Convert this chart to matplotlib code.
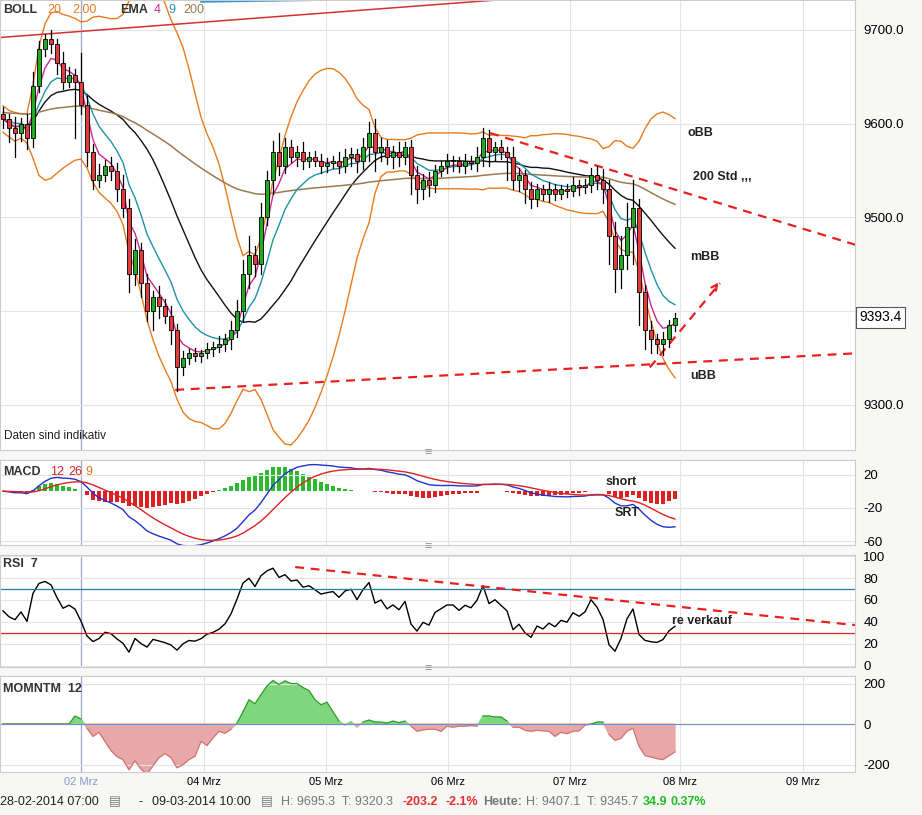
import numpy as np
import pandas as pd
import matplotlib
matplotlib.use('Agg')
import matplotlib.pyplot as plt
from matplotlib.patches import Rectangle

plt.rcParams['font.family'] = ['Liberation Sans', 'DejaVu Sans']
plt.rcParams['axes.unicode_minus'] = False

# hourly closes
closes = [9605, 9595, 9590, 9600, 9585, 9640, 9680, 9690, 9685, 9665,
          9645, 9652, 9645, 9620, 9570, 9540, 9545, 9555, 9550, 9530,
          9510, 9440, 9465, 9430, 9400, 9415, 9405, 9395, 9380, 9340,
          9350, 9355, 9352, 9355, 9360, 9362, 9365, 9370, 9380, 9400,
          9440, 9460, 9450, 9500, 9540, 9570, 9555, 9575, 9565, 9570,
          9560, 9565, 9560, 9555, 9558, 9560, 9555, 9565, 9568, 9560,
          9575, 9590, 9570, 9575, 9565, 9570, 9565, 9575, 9545, 9530,
          9540, 9535, 9550, 9555, 9560, 9560, 9555, 9560, 9558, 9565,
          9585, 9570, 9575, 9570, 9565, 9540, 9545, 9530, 9520, 9530,
          9525, 9530, 9525, 9530, 9528, 9535, 9532, 9535, 9545, 9540,
          9530, 9480, 9445, 9460, 9490, 9510, 9420, 9380, 9370, 9365,
          9370, 9385, 9393]
wick_hi = [8, 5, 12, 6, 10, 15, 8, 6, 10, 5, 12, 8, 6, 30, 10, 8, 12, 6, 10, 8,
           15, 10, 12, 8, 10, 6, 12, 8, 10, 6, 8, 5, 6, 4, 6, 5, 8, 6, 10, 12,
           15, 20, 10, 15, 10, 12, 20, 10, 8, 6, 10, 5, 6, 8, 5, 6, 10, 8, 6, 5,
           10, 12, 15, 10, 8, 6, 10, 5, 8, 10, 6, 8, 6, 5, 8, 6, 5, 8, 6, 10,
           10, 8, 6, 8, 5, 10, 8, 6, 8, 6, 5, 8, 6, 5, 6, 8, 5, 6, 8, 10,
           12, 10, 15, 20, 25, 30, 10, 8, 10, 6, 8, 6, 5]
wick_lo = [10, 15, 25, 8, 12, 10, 6, 8, 10, 12, 8, 6, 60, 10, 15, 10, 8, 6, 10, 12,
           10, 20, 12, 15, 10, 20, 12, 8, 15, 25, 8, 6, 5, 6, 5, 8, 6, 8, 10, 8,
           10, 15, 12, 10, 8, 15, 10, 8, 6, 10, 8, 6, 5, 8, 6, 5, 8, 6, 10, 12,
           8, 15, 20, 10, 8, 12, 10, 8, 20, 15, 10, 12, 8, 6, 8, 10, 6, 8, 6, 8,
           10, 15, 10, 8, 25, 10, 12, 15, 10, 8, 6, 8, 6, 5, 6, 5, 8, 6, 8, 10,
           15, 30, 25, 20, 15, 40, 35, 20, 15, 10, 12, 8, 6]
date_labels = ['02 Mrz', '04 Mrz', '05 Mrz', '06 Mrz', '07 Mrz', '08 Mrz', '09 Mrz']
date_pos = [13, 33.5, 53.8, 74.2, 94.5, 112.8, 133.3]

c = pd.Series(closes, dtype=float)
n = len(c)
idx = np.arange(n)
opens = c.shift(1).fillna(c[0] + 5)

ema4 = c.ewm(span=4, adjust=False).mean()
ema9 = c.ewm(span=9, adjust=False).mean()
ema200 = pd.Series(9612.0, index=c.index)
for i in range(n):
    prev = 9612.0 if i == 0 else ema200[i - 1]
    ema200[i] = prev + 2 / 201 * (c[i] - prev) * 2.2
mid = c.rolling(20, min_periods=1).mean()
sd = c.rolling(20, min_periods=2).std().bfill()
upper = mid + 2 * sd
lower = mid - 2 * sd

macd = c.ewm(span=12, adjust=False).mean() - c.ewm(span=26, adjust=False).mean()
signal = macd.ewm(span=9, adjust=False).mean()
hist = macd - signal

delta = c.diff().fillna(0)
rsi = []
g, l = 8.0, 8.0
for d in delta:
    g = g + (max(d, 0) - g) / 7
    l = l + (max(-d, 0) - l) / 7
    rsi.append(100 - 100 / (1 + g / l))
rsi = np.array(rsi)
mom = (c - c.shift(12)).fillna(0)

fig = plt.figure(figsize=(9.22, 8.15), dpi=100)
W = 855 / 922
ax = fig.add_axes([0, 0.448, W, 0.552])
ax1 = fig.add_axes([0, 0.331, W, 0.104], sharex=ax)
ax2 = fig.add_axes([0, 0.182, W, 0.137], sharex=ax)
ax3 = fig.add_axes([0, 0.053, W, 0.117], sharex=ax)

grid = '#e4e4e4'
for a in (ax, ax1, ax2, ax3):
    a.set_facecolor('white')
    for s in a.spines.values():
        s.set_color('#cccccc')
    a.yaxis.tick_right()
    a.tick_params(axis='y', length=0, labelsize=9.5, pad=6)
    a.tick_params(axis='x', length=0, labelbottom=(a is ax3))
    for p in date_pos:
        a.axvline(p, color=grid, lw=0.8, zorder=0)
    a.axvline(date_pos[0], color='#9aaad0', lw=0.9, zorder=0.5)
ax.set_xlim(-0.5, 142)

# main price panel
for i in idx:
    o, cl = opens[i], c[i]
    col = '#22aa22' if cl >= o else '#e03c3c'
    ax.plot([i, i], [min(o, cl) - wick_lo[i], max(o, cl) + wick_hi[i]], color='black', lw=0.9, zorder=3)
    ax.add_patch(Rectangle((i - 0.32, min(o, cl)), 0.64, max(abs(cl - o), 1.5),
                           facecolor=col, edgecolor='black', lw=0.6, zorder=4))
ax.plot(idx, upper, color='#e87b1e', lw=1)
ax.plot(idx, lower, color='#e87b1e', lw=1)
ax.plot(idx, mid, color='#111111', lw=1)
ax.plot(idx, ema200, color='#9b7b4e', lw=1.1)
ax.plot(idx, ema9, color='#1f93a6', lw=1)
ax.plot(idx, ema4, color='#cc2a8a', lw=1)
ax.plot([-0.5, 82.3], [9692, 9732], color='#d83030', lw=1.1)
ax.plot([33, 53.6], [9730, 9732], color='#2a93d5', lw=1.2)

ax.set_ylim(9252, 9732)
ax.set_yticks([9300, 9400, 9500, 9600, 9700])
ax.set_yticklabels(['9300.0', '', '9500.0', '9600.0', '9700.0'])
ax.yaxis.grid(True, color=grid, lw=0.8)
ax.set_axisbelow(True)

dash = dict(color='#e82020', lw=1.6, ls=(0, (4, 3)))
ax.plot([81.2, 142.5], [9590, 9470], **dash)
ax.annotate('', xy=(142.5, 9470), xytext=(140, 9475),
            arrowprops=dict(arrowstyle='->', color='#e82020', lw=1.6))
ax.plot([28.7, 142], [9316, 9355], **dash)
ax.annotate('', xy=(142.3, 9355), xytext=(140, 9354),
            arrowprops=dict(arrowstyle='->', color='#e82020', lw=1.6))
ax.plot([107.8, 119.5], [9340, 9430], **dash)
ax.annotate('', xy=(119.5, 9433), xytext=(118.5, 9424),
            arrowprops=dict(arrowstyle='->', color='#e82020', lw=1.6))

lab = dict(fontsize=9, fontweight='bold', color='#222222')
ax.text(114, 9587, 'oBB', **lab)
ax.text(115, 9540, '200 Std ,,,', **lab)
ax.text(114.5, 9455, 'mBB', **lab)
ax.text(114.5, 9328, 'uBB', **lab)
ax.text(0.1, 9264, 'Daten sind indikativ', fontsize=8.5, color='#222222')
ax.text(1.005, (9393.4 - 9252) / 480, '9393.4', transform=ax.transAxes, fontsize=10,
        va='center', ha='left', clip_on=False,
        bbox=dict(boxstyle='square,pad=0.25', fc='white', ec='#555555', lw=0.8))
lt = dict(transform=ax.transAxes, fontsize=9, va='top')
ax.text(0.004, 0.99, 'BOLL', fontweight='bold', color='#333', **lt)
ax.text(0.055, 0.99, '20', color='#e87b1e', **lt)
ax.text(0.084, 0.99, '2.00', color='#e87b1e', **lt)
ax.text(0.14, 0.99, 'EMA', fontweight='bold', color='#333', **lt)
ax.text(0.18, 0.99, '4', color='#cc2a8a', **lt)
ax.text(0.197, 0.99, '9', color='#1f93a6', **lt)
ax.text(0.214, 0.99, '200', color='#9b7b4e', **lt)

# MACD
ax1.bar(idx, hist, width=0.7, color=np.where(hist >= 0, '#2db82d', '#e02020'))
ax1.plot(idx, macd, color='#2233cc', lw=1)
ax1.plot(idx, signal, color='#dd2222', lw=1)
ax1.set_ylim(-65, 37)
ax1.set_yticks([20, -20, -60])
ax1.yaxis.grid(True, color=grid, lw=0.8)
lt1 = dict(transform=ax1.transAxes, fontsize=9, va='top')
ax1.text(0.004, 0.93, 'MACD', fontweight='bold', color='#333', **lt1)
ax1.text(0.058, 0.93, '12', color='#dd2222', **lt1)
ax1.text(0.08, 0.93, '26', color='#dd2222', **lt1)
ax1.text(0.1, 0.93, '9', color='#e87b1e', **lt1)
ax1.text(100.5, 8, 'short', **lab)
ax1.text(102, -30, 'SRT', **lab)

# RSI
ax2.plot(idx, rsi, color='black', lw=1)
ax2.axhline(70, color='#1f7f9f', lw=0.9)
ax2.axhline(30, color='#dd2020', lw=0.9)
ax2.plot([48.7, 142], [90, 37], **dash)
ax2.annotate('', xy=(142.3, 37), xytext=(140, 38.5),
             arrowprops=dict(arrowstyle='->', color='#e82020', lw=1.6))
ax2.text(111.5, 38, 're verkauf', **lab)
ax2.set_ylim(-1, 101)
ax2.set_yticks([0, 20, 40, 60, 80, 100])
ax2.yaxis.grid(True, color=grid, lw=0.8)
ax2.text(0.004, 0.97, 'RSI  7', transform=ax2.transAxes, fontsize=9, fontweight='bold', va='top', color='#333')

# Momentum
ax3.fill_between(idx, mom, 0, where=mom >= 0, color='#7fd67f', interpolate=True)
ax3.fill_between(idx, mom, 0, where=mom < 0, color='#e8a8a8', interpolate=True)
ax3.plot(idx, mom.where(mom >= 0), color='#2a9a2a', lw=0.8)
ax3.plot(idx, mom.where(mom <= 0), color='#d07070', lw=0.8)
ax3.axhline(0, color='#6b8fc8', lw=0.8)
ax3.set_ylim(-235, 235)
ax3.set_yticks([200, 0, -200])
ax3.yaxis.grid(True, color=grid, lw=0.8)
ax3.text(0.004, 0.93, 'MOMNTM  12', transform=ax3.transAxes, fontsize=9, fontweight='bold', va='top', color='#333')
ax3.set_xticks(date_pos)
tl = ax3.set_xticklabels(date_labels, fontsize=8)
tl[0].set_color('#8898c8')

for a in (ax1, ax2, ax3):
    bb = a.get_position()
    fig.text(bb.x0 + bb.width / 2, bb.y1 + 0.002, '\u2261', ha='center', va='bottom', fontsize=9, color='#999999')

y = 0.012
parts = [(0.0, '28-02-2014 07:00', '#222', False), (0.15, '-', '#222', False),
         (0.165, '09-03-2014 10:00', '#222', False),
         (0.305, 'H: 9695.3  T: 9320.3', '#777', False), (0.437, '-203.2', '#e03030', True),
         (0.483, '-2.1%', '#e03030', True), (0.524, 'Heute:', '#777', True),
         (0.57, 'H: 9407.1  T: 9345.7', '#777', False), (0.697, '34.9', '#22bb22', True),
         (0.727, '0.37%', '#22bb22', True)]
for xx, t, col, bold in parts:
    fig.text(xx, y, t, fontsize=9, color=col, fontweight='bold' if bold else 'normal')
for xx in (0.118, 0.283):
    fig.text(xx, y, '\u25A4', fontsize=9, color='#777')

fig.savefig('out.png', dpi=100, facecolor='#f7f7f5')
